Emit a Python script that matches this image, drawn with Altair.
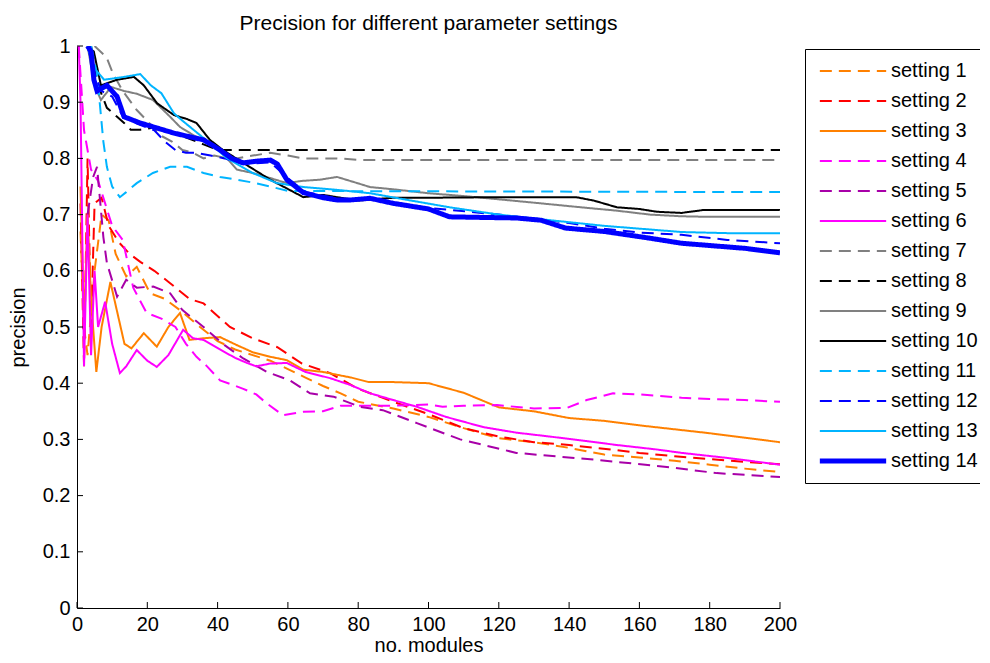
import altair as alt
import pandas as pd

settings = [f"setting {i}" for i in range(1, 15)]
colors = ["#FF8000", "#FF0000", "#FF8000", "#FF00FF", "#A800A8", "#FF00FF", "#808080",
          "#000000", "#808080", "#000000", "#00B4FF", "#0000FF", "#00B4FF", "#0000FF"]
dashed = [True, True, False, True, True, False, True, True, False, False, True, True, False, False]

s1_x = [1, 2, 3, 5, 7, 9, 11, 14, 17, 20.8, 25, 29.3, 35, 40, 45, 50, 55, 60, 65, 70, 75, 80, 90, 100, 110, 120, 130, 140, 150, 160, 170, 180, 190, 200]
s1_y = [0.67, 0.5, 0.45, 0.6, 0.7, 0.69, 0.63, 0.59, 0.607, 0.56, 0.55, 0.53, 0.5, 0.475, 0.46, 0.45, 0.44, 0.425, 0.41, 0.395, 0.382, 0.367, 0.355, 0.34, 0.32, 0.302, 0.295, 0.285, 0.273, 0.268, 0.262, 0.255, 0.248, 0.242]

s2_x = [1, 2, 3, 4, 5, 7, 9, 12, 15, 18, 22, 26.5, 32, 36, 43.5, 50, 57, 64, 72, 80, 90, 100, 110, 120, 130, 140, 153.6, 160, 170, 180, 190, 200]
s2_y = [0.72, 0.43, 0.8, 0.5, 0.72, 0.73, 0.68, 0.65, 0.63, 0.616, 0.6, 0.578, 0.55, 0.542, 0.5, 0.48, 0.464, 0.435, 0.418, 0.39, 0.367, 0.345, 0.32, 0.305, 0.295, 0.29, 0.281, 0.276, 0.27, 0.265, 0.26, 0.256]

s3_x = [1, 2, 3, 4, 5.5, 7, 9.5, 13.5, 15.5, 19, 22.7, 26, 29.3, 32, 36, 40.7, 45.4, 50, 55, 59.7, 64.4, 70, 78, 83, 90, 100, 110, 120, 130, 140, 150, 160, 170, 180, 190, 200]
s3_y = [0.75, 0.5, 0.7, 0.55, 0.42, 0.5, 0.58, 0.47, 0.462, 0.489, 0.465, 0.5, 0.525, 0.477, 0.48, 0.482, 0.468, 0.455, 0.447, 0.441, 0.424, 0.42, 0.41, 0.402, 0.402, 0.4, 0.383, 0.357, 0.35, 0.338, 0.333, 0.325, 0.318, 0.311, 0.303, 0.295]

s4_x = [0.5, 2, 4, 6, 8, 10, 13, 16, 19.8, 24, 28, 31, 34, 37, 40.7, 43, 47.3, 51, 54, 58.6, 64.4, 70, 75, 80, 90, 100, 104, 110, 119.5, 130, 139.4, 145, 152.5, 160, 172, 180, 190, 200]
s4_y = [1.0, 0.85, 0.78, 0.76, 0.72, 0.68, 0.655, 0.57, 0.525, 0.515, 0.5, 0.47, 0.447, 0.43, 0.405, 0.4, 0.39, 0.38, 0.364, 0.343, 0.349, 0.35, 0.36, 0.36, 0.36, 0.362, 0.358, 0.36, 0.361, 0.355, 0.356, 0.37, 0.382, 0.38, 0.374, 0.372, 0.37, 0.367]

s5_x = [3, 4.6, 5.7, 7.5, 8.5, 11.4, 14, 17, 21.7, 26.5, 30, 36, 41.5, 47.3, 54, 60.6, 66.3, 73, 80.5, 87, 96.7, 109, 125, 148.8, 167.8, 182, 200]
s5_y = [0.7, 0.767, 0.785, 0.66, 0.614, 0.554, 0.584, 0.57, 0.572, 0.56, 0.53, 0.5, 0.47, 0.444, 0.42, 0.405, 0.382, 0.376, 0.358, 0.352, 0.329, 0.3, 0.276, 0.263, 0.251, 0.24, 0.233]

s6_x = [0.5, 1, 2, 3, 4, 5, 6, 8, 10, 12.2, 14, 17, 20, 22.7, 26, 30.2, 33, 36, 40.7, 45, 48.4, 51, 55, 59.7, 65, 72, 77.7, 83.4, 90, 96.7, 105, 115.5, 125, 134.6, 145, 153.6, 165, 172, 185, 200]
s6_y = [1.0, 0.9, 0.43, 0.7, 0.45, 0.6, 0.5, 0.545, 0.47, 0.418, 0.43, 0.459, 0.44, 0.429, 0.45, 0.495, 0.48, 0.477, 0.46, 0.445, 0.436, 0.43, 0.435, 0.436, 0.42, 0.409, 0.397, 0.382, 0.37, 0.358, 0.34, 0.322, 0.312, 0.305, 0.297, 0.29, 0.282, 0.276, 0.267, 0.255]

s7_x = [5, 8.4, 10.3, 13, 17, 21, 24, 27, 30, 33, 36, 39, 43, 45.4, 50, 55, 60, 64.4, 70, 74, 81.4, 90, 200]
s7_y = [1.0, 0.98, 0.95, 0.92, 0.886, 0.86, 0.84, 0.83, 0.815, 0.81, 0.8, 0.805, 0.8, 0.8, 0.805, 0.81, 0.805, 0.8, 0.8, 0.8, 0.797, 0.797, 0.797]

s8_x = [4, 6, 8.5, 11.4, 13.4, 15.3, 18, 22.8, 27.6, 32, 36, 40, 43.5, 200]
s8_y = [1.0, 0.93, 0.89, 0.874, 0.863, 0.851, 0.851, 0.856, 0.845, 0.835, 0.825, 0.815, 0.815, 0.815]

s9_x = [3, 5, 6.8, 9.7, 13.4, 17, 21.6, 26.5, 29.3, 34, 38.7, 42.7, 45.5, 50, 55, 59.7, 64, 69, 74, 83.4, 90, 100, 110, 122, 132, 145, 153.6, 163, 172, 180, 200]
s9_y = [1.0, 0.93, 0.904, 0.927, 0.92, 0.915, 0.904, 0.874, 0.856, 0.838, 0.827, 0.8, 0.78, 0.774, 0.765, 0.756, 0.76, 0.762, 0.767, 0.749, 0.745, 0.738, 0.733, 0.726, 0.72, 0.712, 0.707, 0.7, 0.697, 0.696, 0.696]

s10_x = [3, 4.8, 6.8, 11.4, 16.2, 19, 22.8, 27.6, 31.3, 34, 37.8, 41.5, 47.3, 55, 64.4, 70, 80, 90, 100, 120, 142, 147, 153.6, 160, 165, 172, 178, 200]
s10_y = [1.0, 0.99, 0.93, 0.94, 0.945, 0.93, 0.898, 0.877, 0.87, 0.863, 0.833, 0.815, 0.792, 0.762, 0.731, 0.735, 0.725, 0.73, 0.73, 0.731, 0.731, 0.725, 0.713, 0.71, 0.705, 0.703, 0.708, 0.708]

s11_x = [4, 5.7, 7.5, 8.5, 10, 12.2, 14, 17, 21.6, 26.5, 31.3, 36, 40.7, 45.5, 50, 55, 60, 200]
s11_y = [1.0, 0.95, 0.83, 0.785, 0.75, 0.731, 0.74, 0.756, 0.774, 0.785, 0.785, 0.774, 0.767, 0.762, 0.757, 0.75, 0.742, 0.74]

s12_x = [3, 5, 7, 10, 13, 17, 22, 25, 28, 31, 34, 38, 42, 47, 55, 60, 65, 75, 85, 100, 120, 140, 150, 160, 172, 185, 200]
s12_y = [1.0, 0.95, 0.92, 0.91, 0.875, 0.862, 0.85, 0.83, 0.815, 0.81, 0.81, 0.805, 0.8, 0.79, 0.793, 0.765, 0.74, 0.728, 0.727, 0.712, 0.7, 0.685, 0.675, 0.668, 0.664, 0.655, 0.649]

s13_x = [3, 5, 7.7, 13.4, 18, 21, 24, 27.6, 30.4, 37.8, 42.7, 50, 56.9, 64.4, 74, 83.4, 95, 106, 120, 134.6, 150, 160, 172, 185, 200]
s13_y = [1.0, 0.96, 0.94, 0.945, 0.95, 0.93, 0.916, 0.88, 0.865, 0.827, 0.8, 0.774, 0.756, 0.749, 0.744, 0.738, 0.725, 0.713, 0.7, 0.69, 0.68, 0.675, 0.669, 0.667, 0.667]

s14_x = [3, 4, 4.8, 5.7, 8.5, 11.4, 13.4, 18, 22.8, 27.6, 32.4, 36, 40.7, 44, 47.3, 51, 55, 57, 59.7, 64.4, 70, 74, 77.7, 83.4, 90, 100, 106, 115, 125, 132, 139, 150, 163, 172, 180, 190, 200]
s14_y = [1.0, 0.99, 0.94, 0.92, 0.93, 0.91, 0.874, 0.863, 0.854, 0.845, 0.838, 0.833, 0.815, 0.8, 0.792, 0.795, 0.797, 0.79, 0.762, 0.739, 0.73, 0.726, 0.726, 0.729, 0.72, 0.71, 0.696, 0.695, 0.694, 0.69, 0.676, 0.67, 0.658, 0.649, 0.645, 0.64, 0.632]

x_ticks = [0, 20, 40, 60, 80, 100, 120, 140, 160, 180, 200]
y_ticks = [0, 0.1, 0.2, 0.3, 0.4, 0.5, 0.6, 0.7, 0.8, 0.9, 1]

series_x = [s1_x, s2_x, s3_x, s4_x, s5_x, s6_x, s7_x, s8_x, s9_x, s10_x, s11_x, s12_x, s13_x, s14_x]
series_y = [s1_y, s2_y, s3_y, s4_y, s5_y, s6_y, s7_y, s8_y, s9_y, s10_y, s11_y, s12_y, s13_y, s14_y]

rows = []
for name, xs, ys in zip(settings, series_x, series_y):
    for i, (a, b) in enumerate(zip(xs, ys)):
        rows.append({"setting": name, "x": a, "y": b, "i": i})
df = pd.DataFrame(rows)

FONT = "Liberation Sans"
xscale = alt.Scale(domain=[0, 200], nice=False, zero=False)
yscale = alt.Scale(domain=[0, 1], nice=False)

axis_style = dict(labelFont=FONT, labelFontSize=20, labelColor="black", titleFont=FONT,
                  titleFontSize=20, titleFontWeight="normal", titleColor="black",
                  domainColor="black", domainWidth=1, ticks=False, grid=False, labelFlush=False)
x_axis = alt.Axis(values=x_ticks, labelPadding=6, titleBaseline="alphabetic", titleY=43,
                  **axis_style)
y_axis = alt.Axis(values=y_ticks, labelPadding=7, titlePadding=14,
                  labelExpr="datum.value == 0 ? '0' : datum.value == 1 ? '1' : format(datum.value, '.1f')",
                  **axis_style)

lines = alt.Chart(df).mark_line(clip=True).encode(
    x=alt.X("x:Q", scale=xscale, title="no. modules", axis=x_axis),
    y=alt.Y("y:Q", scale=yscale, title="precision", axis=y_axis),
    color=alt.Color("setting:N", scale=alt.Scale(domain=settings, range=colors),
                    legend=alt.Legend(orient="none", legendX=728, legendY=3, title=None,
                                      symbolType="stroke", symbolSize=4400, symbolOffset=26,
                                      symbolStrokeWidth=alt.ExprRef("datum.value === 'setting 14' ? 5 : 2"),
                                      labelFont=FONT, labelFontSize=20, labelColor="black",
                                      labelOffset=28, rowPadding=10, padding=12,
                                      strokeColor="black", fillColor="white", cornerRadius=0,
                                      labelLimit=0)),
    strokeDash=alt.StrokeDash("setting:N", scale=alt.Scale(domain=settings,
                              range=[[12, 7] if d else [1, 0] for d in dashed])),
    strokeWidth=alt.condition("datum.setting === 'setting 14'", alt.value(5), alt.value(2)),
    order="i:Q",
)

xt = alt.Chart(pd.DataFrame({"x": x_ticks})).mark_rule(color="black", strokeWidth=1).encode(
    x=alt.X("x:Q", scale=xscale, title="no. modules", axis=x_axis), y=alt.value(562), y2=alt.value(556))
yt = alt.Chart(pd.DataFrame({"y": y_ticks})).mark_rule(color="black", strokeWidth=1).encode(
    y=alt.Y("y:Q", scale=yscale, title="precision", axis=y_axis), x=alt.value(0), x2=alt.value(6))

chart = alt.layer(lines, xt, yt).properties(
    width=703, height=562, background="white",
    title=alt.TitleParams("Precision for different parameter settings", font=FONT, fontSize=21,
                          fontWeight="normal", color="black", offset=2, anchor="middle"),
    autosize=alt.AutoSizeParams(type="none"),
    padding={"left": 69, "top": 38, "right": 200, "bottom": 47},
).configure_view(stroke=None)

chart.save("out.html", embed_options={"renderer": "svg", "actions": False})
